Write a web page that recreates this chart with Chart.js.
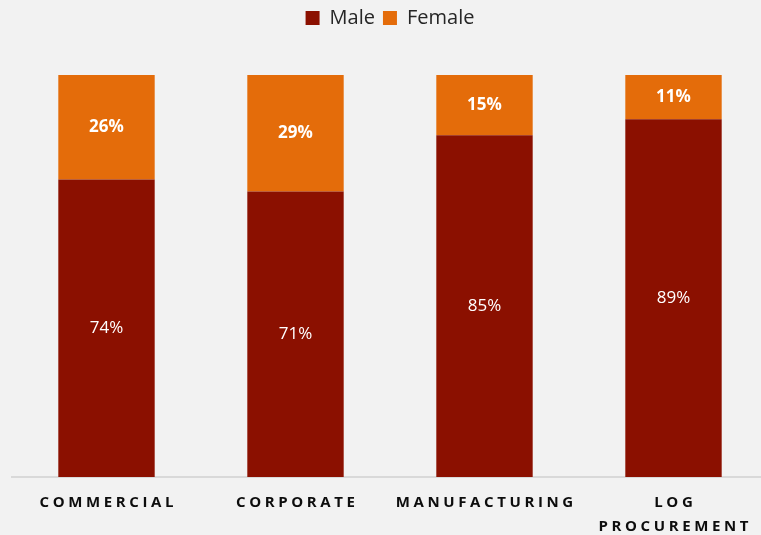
<!DOCTYPE html>
<html>
<head>
<meta charset="utf-8">
<script src="https://cdn.jsdelivr.net/npm/chart.js@4.4.1/dist/chart.umd.min.js"></script>
<style>
  html, body { margin: 0; padding: 0; background: #f2f2f2; overflow: hidden; }
  #wrap { width: 770px; height: 535px; }
</style>
</head>
<body>
<div id="wrap"><canvas id="barChart"></canvas></div>
<script>
const categories = ['COMMERCIAL', 'CORPORATE', 'MANUFACTURING', ['LOG', 'PROCUREMENT']];
const maleValues = [74, 71, 85, 89];
const femaleValues = [26, 29, 15, 11];

const FONT = "'Open Sans', 'Noto Sans', sans-serif";
const SPACING = 3.6;

// writes the percentages inside each segment
const segmentLabels = {
	id: 'segmentLabels',
	afterDatasetsDraw(chart) {
		const ctx = chart.ctx;
		ctx.save();
		ctx.fillStyle = '#ffffff';
		ctx.textAlign = 'center';
		ctx.textBaseline = 'middle';
		chart.data.datasets.forEach((ds, i) => {
			const meta = chart.getDatasetMeta(i);
			ctx.font = (i === 1 ? 'bold ' : '') + '17px ' + FONT;
			meta.data.forEach((bar, j) => {
				const mid = (bar.y + bar.base) / 2;
				ctx.fillText(ds.data[j] + '%', bar.x, mid);
			});
		});
		ctx.restore();
	}
};

// spaced-out axis labels + extra room under the legend
const tweaks = {
	id: 'tweaks',
	beforeInit(chart) {
		const lg = chart.legend;
		if (lg) {
			const fit = lg.fit;
			lg.fit = function () {
				fit.call(this);
				this.height += 37;
			};
		}
	},
	beforeDraw(chart) {
		const xs = chart.scales.x;
		if (xs._patched) return;
		const orig = xs.drawLabels;
		xs.drawLabels = function (area) {
			chart.ctx.save();
			chart.ctx.letterSpacing = SPACING + 'px';
			chart.ctx.translate(SPACING / 2, 0);
			orig.call(this, area);
			chart.ctx.restore();
		};
		xs._patched = true;
	}
};

const barCtx = document.getElementById('barChart').getContext('2d');
const barChart = new Chart(barCtx, {
	type: 'bar',
	data: {
		labels: categories,
		datasets: [{
			label: 'Male',
			data: maleValues,
			backgroundColor: '#8b1000',
			categoryPercentage: 1,
			barPercentage: 0.51
		}, {
			label: 'Female',
			data: femaleValues,
			backgroundColor: '#e46c0a',
			categoryPercentage: 1,
			barPercentage: 0.51
		}]
	},
	options: {
		responsive: true,
		maintainAspectRatio: false,
		animation: false,
		layout: { padding: { left: 12, right: 2, top: 0, bottom: -10 } },
		plugins: {
			legend: {
				position: 'top',
				labels: {
					font: { family: FONT, size: 20 },
					color: '#262626',
					boxWidth: 14,
					boxHeight: 14,
					padding: 8
				}
			},
			tooltip: { enabled: false }
		},
		scales: {
			x: {
				stacked: true,
				grid: { display: false },
				border: { display: true, color: '#d9d9d9', width: 2 },
				ticks: {
					color: '#0d0d0d',
					font: { family: FONT, size: 15, weight: 'bold', lineHeight: 1.6 },
					padding: 6,
					maxRotation: 0,
					autoSkip: false
				}
			},
			y: {
				stacked: true,
				display: false,
				min: 0,
				max: 100
			}
		}
	},
	plugins: [segmentLabels, tweaks]
});
</script>
</body>
</html>
